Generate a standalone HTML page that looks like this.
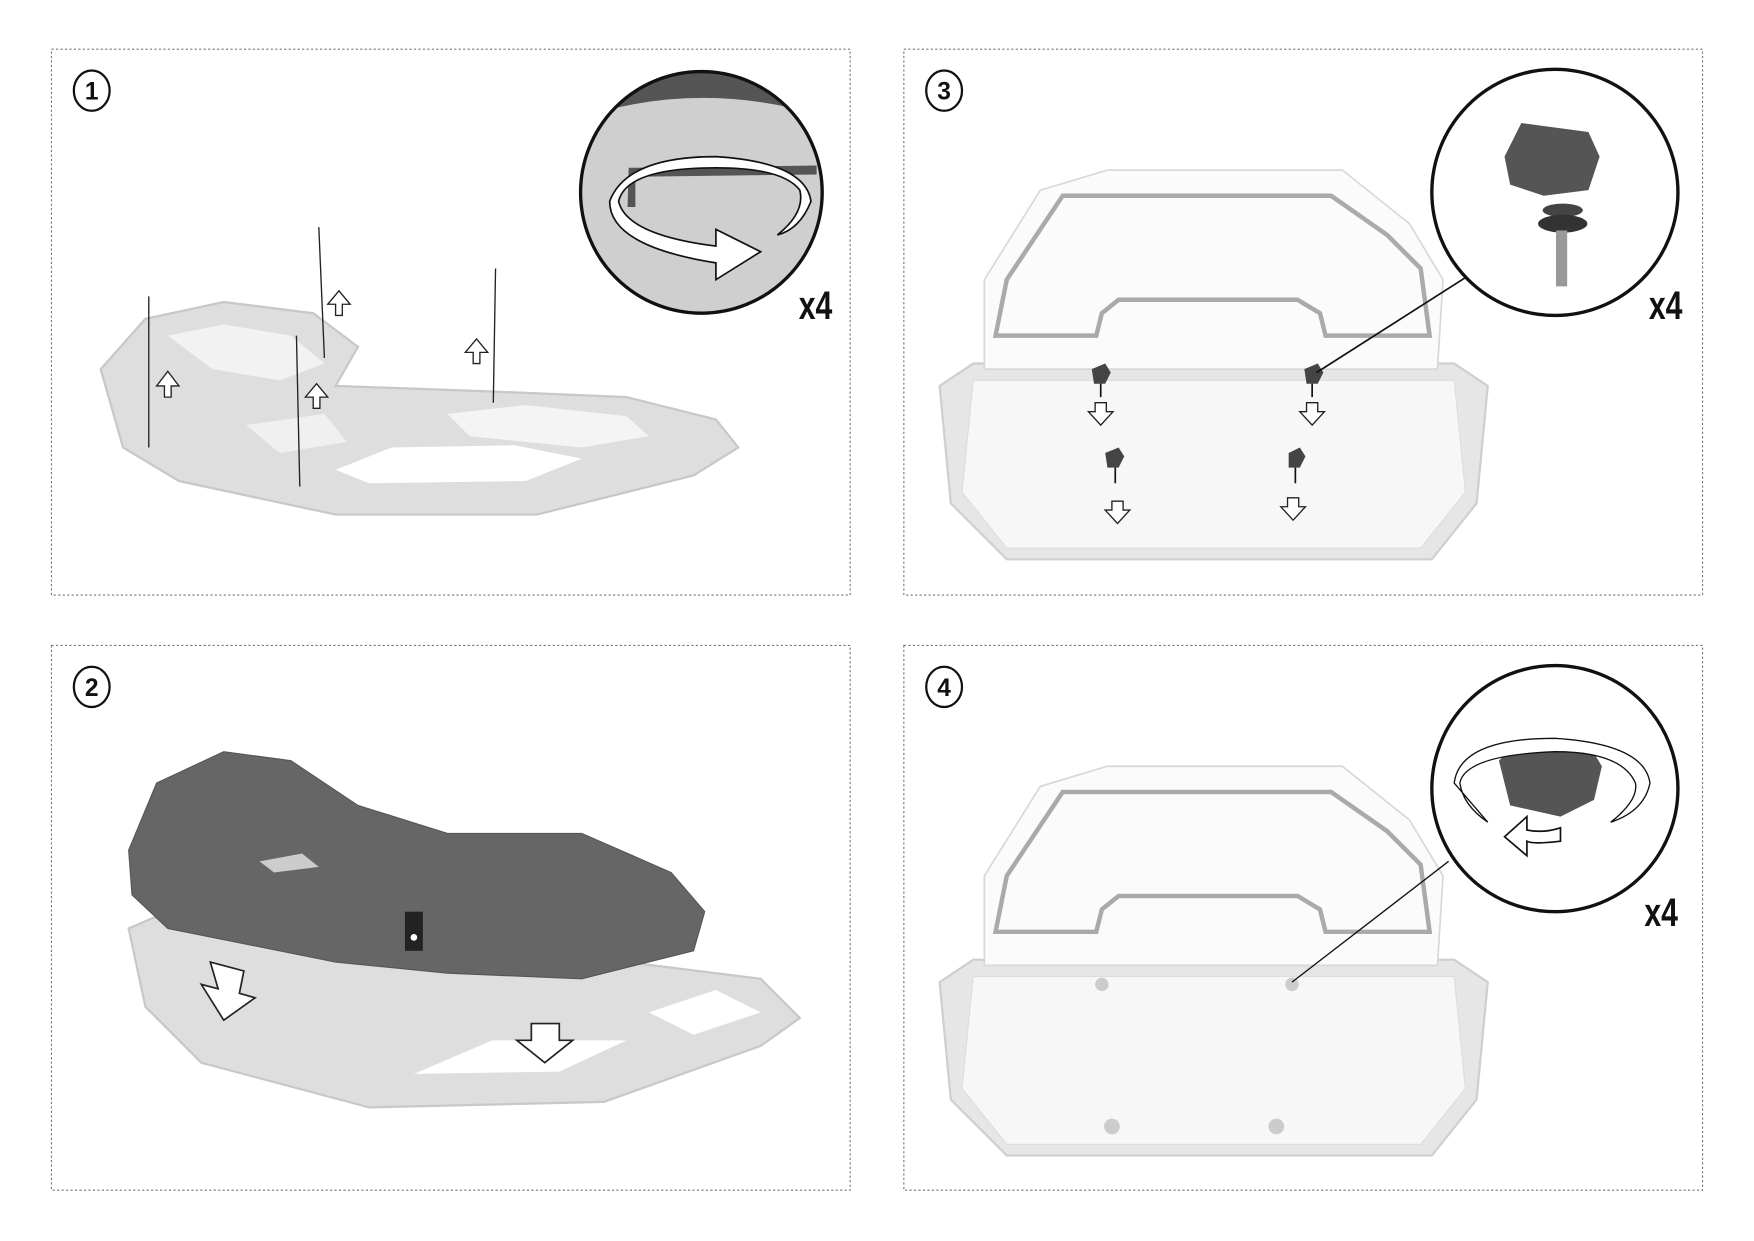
<!DOCTYPE html>
<html><head><meta charset="utf-8"><style>
html,body{margin:0;padding:0;background:#fff;}
svg{display:block;}
.t{font-family:"Liberation Sans",sans-serif;font-weight:bold;}
</style></head><body>
<svg width="1754" height="1241" viewBox="0 0 1568 1109.4" preserveAspectRatio="none" xmlns="http://www.w3.org/2000/svg">
<defs>
<clipPath id="c1"><circle cx="627" cy="172" r="107"/></clipPath>
<clipPath id="c3"><circle cx="1390" cy="172" r="109"/></clipPath>
<clipPath id="c4"><circle cx="1390" cy="705" r="109"/></clipPath>
</defs>
<g fill="none" stroke="#777" stroke-width="1" stroke-dasharray="2,2">
<rect x="46" y="44" width="714" height="488"/>
<rect x="808" y="44" width="714" height="488"/>
<rect x="46" y="577" width="714" height="487"/>
<rect x="808" y="577" width="714" height="487"/>
</g>
<g fill="#fff" stroke="#111" stroke-width="2">
<ellipse cx="82" cy="81" rx="16" ry="18"/><ellipse cx="844" cy="81" rx="16" ry="18"/>
<ellipse cx="82" cy="614" rx="16" ry="18"/><ellipse cx="844" cy="614" rx="16" ry="18"/>
</g>
<g class="t" font-size="22" text-anchor="middle" fill="#111">
<text x="82" y="89">1</text><text x="844" y="89">3</text>
<text x="82" y="622">2</text><text x="844" y="622">4</text>
</g>

<!-- Panel 1 rack -->
<g>
<path d="M90,330 L130,285 L200,270 L280,280 L320,310 L300,345 L440,350 L560,355 L640,375 L660,400 L620,425 L480,460 L300,460 L160,430 L110,400 Z" fill="#dedede" stroke="#c8c8c8" stroke-width="2"/>
<path d="M150,300 L200,290 L260,300 L290,325 L250,340 L190,330 Z" fill="#f2f2f2"/>
<path d="M300,420 L350,400 L460,398 L520,410 L470,430 L330,432 Z" fill="#fff"/>
<path d="M400,370 L470,362 L560,372 L580,390 L520,400 L420,390 Z" fill="#f4f4f4"/>
<path d="M220,380 L290,370 L310,395 L250,405 Z" fill="#f0f0f0"/>
</g>
<g stroke="#222" stroke-width="1.2">
<line x1="133" y1="265" x2="133" y2="400"/><line x1="285" y1="203" x2="290" y2="320"/>
<line x1="265" y1="300" x2="268" y2="435"/><line x1="443" y1="240" x2="441" y2="360"/>
</g>
<g fill="#fff" stroke="#222" stroke-width="1.2">
<path d="M147,355 L147,345 L140,345 L150,332 L160,345 L153,345 L153,355 Z"/>
<path d="M300,282 L300,272 L293,272 L303,260 L313,272 L306,272 L306,282 Z"/>
<path d="M280,365 L280,355 L273,355 L283,343 L293,355 L286,355 L286,365 Z"/>
<path d="M423,325 L423,315 L416,315 L426,303 L436,315 L429,315 L429,325 Z"/>
</g>
<!-- circle 1 -->
<circle cx="627" cy="172" r="108" fill="#cfcfcf"/>
<g clip-path="url(#c1)">
<path d="M520,105 Q627,70 740,105 L740,50 L520,50 Z" fill="#555"/>
<path d="M562,150 L730,148 L730,156 L568,158 L568,185 L561,185 Z" fill="#555"/>
</g>
<circle cx="627" cy="172" r="108" fill="none" stroke="#111" stroke-width="3"/>
<path d="M545,180 Q560,140 640,140 Q720,145 725,180 Q715,205 695,210 Q720,190 715,170 Q700,150 640,150 Q560,150 553,180 Q560,210 640,220 L640,205 L680,225 L640,250 L640,235 Q545,220 545,180 Z" fill="#fff" stroke="#111" stroke-width="1.5"/>
<text class="t" x="714" y="285" font-size="36" fill="#111" transform="translate(714,285) scale(0.75,1) translate(-714,-285)">x4</text>

<!-- Panel 3 -->
<path d="M840,345 L870,325 L1300,325 L1330,345 L1320,450 L1280,500 L900,500 L850,450 Z" fill="#e6e6e6" stroke="#cfcfcf" stroke-width="2"/>
<path d="M870,340 L1300,340 L1310,440 L1270,490 L900,490 L860,440 Z" fill="#f7f7f7" stroke="#ddd"/>
<path d="M880,250 L930,170 L990,152 L1200,152 L1260,200 L1290,250 L1285,330 L880,330 Z" fill="#fbfbfb" stroke="#d8d8d8" stroke-width="1.5"/>
<path d="M890,300 L900,250 L950,175 L1190,175 L1240,210 L1270,240 L1278,300 L1185,300 L1180,280 L1160,268 L1000,268 L985,280 L980,300 Z" fill="none" stroke="#aaa" stroke-width="4"/>
<g fill="#444"><path d="M976,330 l12,-5 5,8 -5,10 -10,0 z"/><path d="M1166,330 l12,-5 5,8 -5,10 -10,0 z"/><path d="M988,405 l12,-5 5,8 -5,10 -10,0 z"/><path d="M1152,405 l10,-5 5,8 -5,10 -10,0 z"/></g>
<g stroke="#111" stroke-width="1.5"><line x1="984" y1="343" x2="984" y2="355"/><line x1="1173" y1="343" x2="1173" y2="355"/><line x1="997" y1="418" x2="997" y2="432"/><line x1="1158" y1="418" x2="1158" y2="432"/><line x1="1177" y1="333" x2="1315" y2="245"/></g>
<g fill="#fff" stroke="#222" stroke-width="1.2">
<path d="M979,360 l10,0 0,8 6,0 -11,12 -11,-12 6,0 z"/><path d="M1168,360 l10,0 0,8 6,0 -11,12 -11,-12 6,0 z"/>
<path d="M994,448 l10,0 0,8 6,0 -11,12 -11,-12 6,0 z"/><path d="M1151,445 l10,0 0,8 6,0 -11,12 -11,-12 6,0 z"/>
</g>
<circle cx="1390" cy="172" r="110" fill="#fff" stroke="#111" stroke-width="3"/>
<path d="M1345,140 L1360,110 L1420,118 L1430,140 L1420,170 L1380,175 L1350,165 Z" fill="#555"/>
<ellipse cx="1397" cy="188" rx="18" ry="6" fill="#444"/><ellipse cx="1397" cy="200" rx="22" ry="8" fill="#333"/>
<rect x="1391" y="206" width="10" height="50" fill="#999"/>
<text class="t" x="1474" y="285" font-size="36" fill="#111" transform="translate(1474,285) scale(0.75,1) translate(-1474,-285)">x4</text>

<!-- Panel 2 -->
<path d="M115,830 L150,815 L300,830 L560,860 L680,875 L715,910 L680,935 L540,985 L330,990 L180,950 L130,900 Z" fill="#dedede" stroke="#c8c8c8" stroke-width="2"/>
<path d="M370,960 L440,930 L560,930 L500,958 Z" fill="#fff"/>
<path d="M580,905 L640,885 L680,905 L620,925 Z" fill="#fff"/>
<path d="M115,760 L140,700 L200,672 L260,680 L320,720 L400,745 L520,745 L600,780 L630,815 L620,850 L520,875 L400,870 L300,860 L150,830 L118,800 Z" fill="#666" stroke="#555"/>
<path d="M232,770 L270,763 L285,775 L245,780 Z" fill="#ccc"/>
<rect x="362" y="815" width="16" height="35" fill="#222"/><circle cx="370" cy="838" r="3" fill="#fff"/>
<g fill="#fff" stroke="#222" stroke-width="1.5">
<path d="M188,860 L218,868 L214,888 L228,892 L200,912 L180,880 L195,884 Z"/>
<path d="M475,915 L500,915 L500,930 L512,930 L487,950 L462,930 L475,930 Z"/>
</g>

<!-- Panel 4 -->
<path d="M840,878 L870,858 L1300,858 L1330,878 L1320,983 L1280,1033 L900,1033 L850,983 Z" fill="#e6e6e6" stroke="#cfcfcf" stroke-width="2"/>
<path d="M870,873 L1300,873 L1310,973 L1270,1023 L900,1023 L860,973 Z" fill="#f7f7f7" stroke="#ddd"/>
<path d="M880,783 L930,703 L990,685 L1200,685 L1260,733 L1290,783 L1285,863 L880,863 Z" fill="#fbfbfb" stroke="#d8d8d8" stroke-width="1.5"/>
<path d="M890,833 L900,783 L950,708 L1190,708 L1240,743 L1270,773 L1278,833 L1185,833 L1180,813 L1160,801 L1000,801 L985,813 L980,833 Z" fill="none" stroke="#aaa" stroke-width="4"/>
<g fill="#ccc"><circle cx="985" cy="880" r="6"/><circle cx="1155" cy="880" r="6"/><circle cx="994" cy="1007" r="7"/><circle cx="1141" cy="1007" r="7"/></g>
<line x1="1155" y1="878" x2="1295" y2="770" stroke="#111" stroke-width="1.2"/>
<circle cx="1390" cy="705" r="110" fill="#fff" stroke="#111" stroke-width="3"/>
<path d="M1340,680 L1355,665 L1420,665 L1432,685 L1425,715 L1395,730 L1350,720 Z" fill="#555"/>
<path d="M1300,700 Q1305,660 1390,660 Q1470,665 1475,700 Q1470,725 1440,735 Q1465,715 1462,700 Q1450,672 1390,672 Q1310,675 1305,700 Q1308,720 1330,735 Z" fill="#fff" stroke="#111" stroke-width="1.2"/>
<path d="M1395,740 L1395,752 Q1370,755 1365,752 L1365,765 L1345,748 L1365,730 L1365,742 Q1380,745 1395,740 Z" fill="#fff" stroke="#111" stroke-width="1.5"/>
<text class="t" x="1470" y="828" font-size="36" fill="#111" transform="translate(1470,828) scale(0.75,1) translate(-1470,-828)">x4</text>
</svg>
</body></html>
